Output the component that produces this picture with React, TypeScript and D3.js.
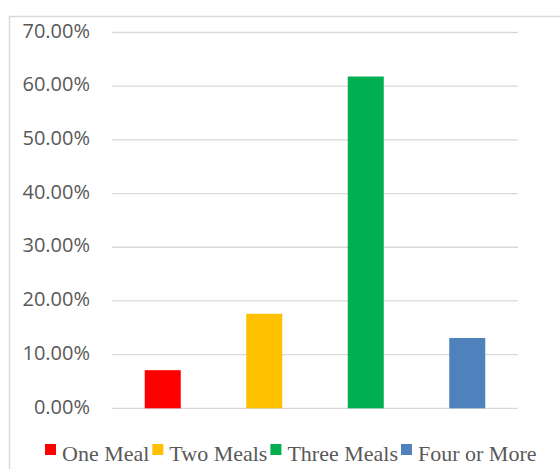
import React from "react";
import * as d3 from "d3";

const categories = ["One Meal", "Two Meals", "Three Meals", "Four or More"];
const values = [0.071, 0.176, 0.618, 0.131];
const colors = ["#FF0000", "#FFC000", "#00B050", "#4F81BD"];
const yTicks = [0, 0.1, 0.2, 0.3, 0.4, 0.5, 0.6, 0.7];

const W = 560;
const H = 469;
const plot = { left: 112, right: 518, top: 32.5, bottom: 408.3 };

function measure(text: string, font: string): number {
  const c = document.createElement("canvas");
  const ctx = c.getContext("2d");
  if (!ctx) return text.length * 10;
  ctx.font = font;
  return ctx.measureText(text).width;
}

export default function App() {
  const x = d3
    .scaleBand<string>()
    .domain(categories)
    .range([plot.left, plot.right])
    .paddingInner(0)
    .paddingOuter(0);
  const y = d3.scaleLinear().domain([0, 0.7]).range([plot.bottom, plot.top]);
  const barW = x.bandwidth() * 0.355;
  const fmt = d3.format(".2%");

  const legendSize = 22;
  const legendFont = `${legendSize}px 'Liberation Serif', 'Times New Roman', serif`;
  const sq = 11;
  let cursor = 45;
  const legendItems = categories.map((c, i) => {
    const sx = cursor;
    const tx = sx + sq + 6;
    const tw = measure(c, legendFont);
    cursor = tx + tw + 3;
    return { c, i, sx, tx };
  });

  return (
    <svg
      width={W}
      height={H}
      style={{ position: "absolute", left: 0, top: 0, background: "#fff" }}
    >
      <rect x={0} y={0} width={W} height={H} fill="#fff" />
      <rect
        x={9.5}
        y={16.5}
        width={W + 40}
        height={H + 40}
        fill="none"
        stroke="#D9D9D9"
        strokeWidth={1.5}
      />
      {yTicks.map((t) => (
        <g key={t}>
          <line
            x1={plot.left}
            x2={plot.right}
            y1={y(t)}
            y2={y(t)}
            stroke="#D9D9D9"
            strokeWidth={1.3}
          />
          <text
            x={90}
            y={y(t) + 5.2}
            textAnchor="end"
            fontFamily="'Open Sans', 'Liberation Sans', sans-serif"
            fontSize={20}
            fill="#595959"
          >
            {fmt(t)}
          </text>
        </g>
      ))}
      {categories.map((c, i) => (
        <rect
          key={c}
          x={(x(c) as number) + x.bandwidth() / 2 - barW / 2}
          y={y(values[i])}
          width={barW}
          height={y(0) - y(values[i])}
          fill={colors[i]}
        />
      ))}
      {legendItems.map(({ c, i, sx, tx }) => (
        <g key={c}>
          <rect x={sx} y={444} width={sq} height={sq} fill={colors[i]} />
          <text
            x={tx}
            y={460.5}
            fontFamily="'Liberation Serif', 'Times New Roman', serif"
            fontSize={legendSize}
            fill="#595959"
          >
            {c}
          </text>
        </g>
      ))}
    </svg>
  );
}
